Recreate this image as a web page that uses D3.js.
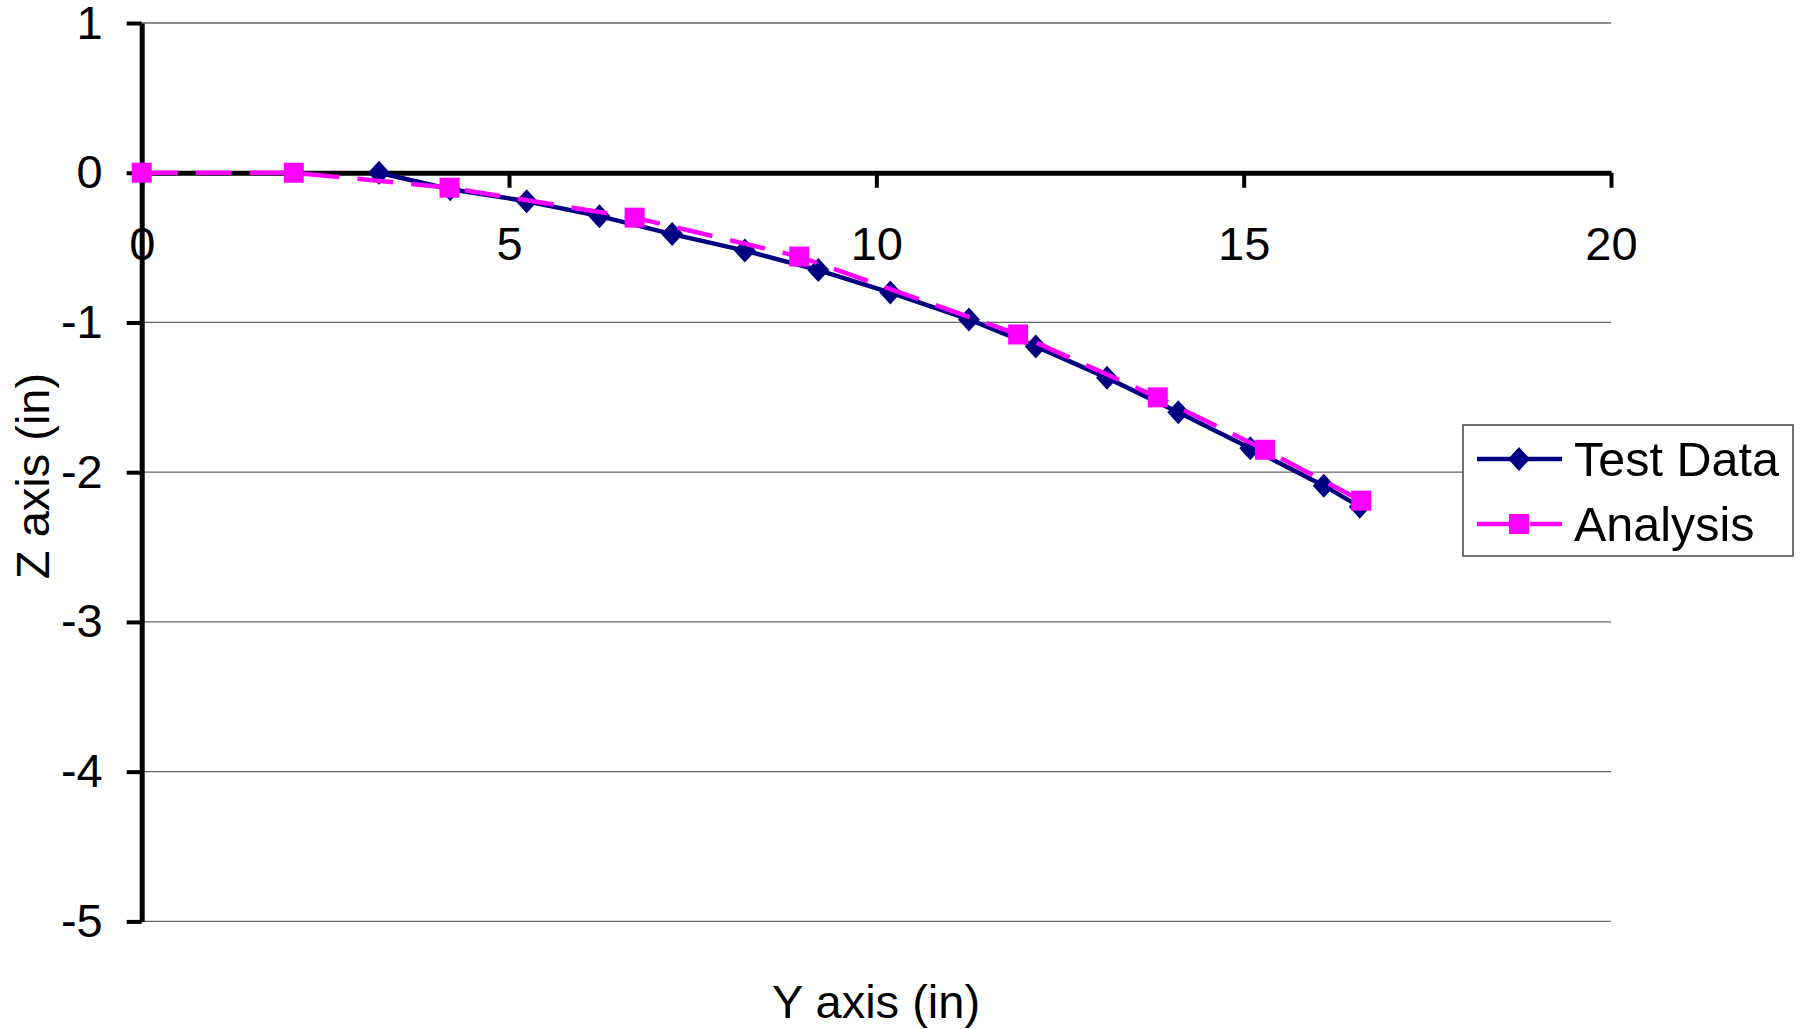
<!DOCTYPE html>
<html>
<head>
<meta charset="utf-8">
<script src="https://cdn.jsdelivr.net/npm/d3@7"></script>
<style>
  html, body { margin: 0; padding: 0; background: #fff; }
  svg { display: block; font-family: "Liberation Sans", Arial, sans-serif; }
</style>
</head>
<body>
<svg id="chart" width="1806" height="1029"></svg>
<script>
// ---- data ----
const testY = [3.23, 4.20, 5.24, 6.23, 7.22, 8.21, 9.21, 10.19, 11.26, 12.17, 13.14, 14.11, 15.09, 16.09, 16.58];
const testZ = [0.00, -0.11, -0.19, -0.29, -0.41, -0.52, -0.65, -0.80, -0.98, -1.16, -1.37, -1.60, -1.84, -2.09, -2.23];
const analysisY = [0.00, 2.07, 4.19, 6.71, 8.95, 11.93, 13.83, 15.29, 16.60];
const analysisZ = [0.00, 0.00, -0.10, -0.30, -0.56, -1.08, -1.50, -1.85, -2.19];
const xTicks = [0, 5, 10, 15, 20];
const yTicks = [1, 0, -1, -2, -3, -4, -5];
const seriesNames = ["Test Data", "Analysis"];
const xTitle = "Y axis (in)";
const yTitle = "Z axis (in)";

const svg = d3.select("#chart");
const x = d3.scaleLinear().domain([0, 20]).range([141.7, 1611]);
const y = d3.scaleLinear().domain([-5, 1]).range([921.4, 23]);

const navy = "#000080", magenta = "#FF00FF";
const fmt = d => String(d);

// gridlines
svg.append("g").selectAll("line").data(yTicks.filter(d => d !== 0)).join("line")
  .attr("x1", x(0)).attr("x2", x(20))
  .attr("y1", d => y(d)).attr("y2", d => y(d))
  .attr("stroke", "#666").attr("stroke-width", 1.3);

// y axis
const yAxis = svg.append("g").attr("transform", `translate(${x(0)},0)`)
  .call(d3.axisLeft(y).tickValues(yTicks).tickFormat(fmt).tickSize(15).tickPadding(24).tickSizeOuter(0));
yAxis.select(".domain").attr("stroke", "#000").attr("stroke-width", 5);
yAxis.selectAll(".tick line").attr("stroke", "#000").attr("stroke-width", 4);
yAxis.selectAll("text").attr("font-size", 47).attr("fill", "#000")
  .attr("font-family", "'Liberation Sans', Arial, sans-serif");

// x axis at z = 0
const xAxis = svg.append("g").attr("transform", `translate(0,${y(0)})`)
  .call(d3.axisBottom(x).tickValues(xTicks).tickFormat(fmt).tickSize(15).tickPadding(39).tickSizeOuter(0));
xAxis.select(".domain").attr("stroke", "#000").attr("stroke-width", 5);
xAxis.selectAll(".tick line").attr("stroke", "#000").attr("stroke-width", 4);
xAxis.selectAll("text").attr("font-size", 47).attr("fill", "#000")
  .attr("font-family", "'Liberation Sans', Arial, sans-serif");

// series
const testPts = testY.map((v, i) => [v, testZ[i]]);
const anaPts = analysisY.map((v, i) => [v, analysisZ[i]]);
const line = d3.line().x(d => x(d[0])).y(d => y(d[1]));

svg.append("path").datum(testPts).attr("d", line)
  .attr("fill", "none").attr("stroke", navy).attr("stroke-width", 4.5);
svg.append("g").selectAll("path").data(testPts).join("path")
  .attr("transform", d => `translate(${x(d[0])},${y(d[1])})`)
  .attr("d", "M0,-12L11,0L0,12L-11,0Z").attr("fill", navy);

svg.append("path").datum(anaPts).attr("d", line)
  .attr("fill", "none").attr("stroke", magenta).attr("stroke-width", 4.5)
  .attr("stroke-dasharray", "36,18");
svg.append("g").selectAll("rect").data(anaPts).join("rect")
  .attr("x", d => x(d[0]) - 10).attr("y", d => y(d[1]) - 10)
  .attr("width", 20).attr("height", 20).attr("fill", magenta);

// axis titles
svg.append("text").attr("x", 876).attr("y", 1018).attr("text-anchor", "middle")
  .attr("font-size", 47).text(xTitle);
svg.append("text").attr("transform", "translate(49,476) rotate(-90)").attr("text-anchor", "middle")
  .attr("font-size", 47).text(yTitle);

// legend
const lg = svg.append("g");
lg.append("rect").attr("x", 1463).attr("y", 425).attr("width", 330).attr("height", 131)
  .attr("fill", "#fff").attr("stroke", "#444").attr("stroke-width", 1.5);
const rows = [459, 524];
lg.append("line").attr("x1", 1477).attr("x2", 1562).attr("y1", rows[0]).attr("y2", rows[0])
  .attr("stroke", navy).attr("stroke-width", 4.5);
lg.append("path").attr("transform", `translate(1519,${rows[0]})`)
  .attr("d", "M0,-12L11,0L0,12L-11,0Z").attr("fill", navy);
lg.append("line").attr("x1", 1477).attr("x2", 1562).attr("y1", rows[1]).attr("y2", rows[1])
  .attr("stroke", magenta).attr("stroke-width", 4.5).attr("stroke-dasharray", "32,21");
lg.append("rect").attr("x", 1509).attr("y", rows[1] - 10).attr("width", 20).attr("height", 20).attr("fill", magenta);
lg.selectAll("text.lt").data(seriesNames).join("text").attr("class", "lt")
  .attr("x", 1574).attr("y", (d, i) => rows[i] + 17)
  .attr("font-size", 48.5).text(d => d);
</script>
</body>
</html>
